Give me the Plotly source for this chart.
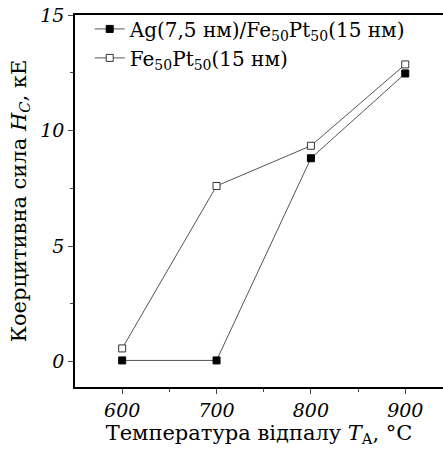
import plotly.graph_objects as go

temps = [600, 700, 800, 900]
hc_ag_fept = [0.05, 0.05, 8.8, 12.47]
hc_fept = [0.57, 7.6, 9.34, 12.86]
name_ag = "Ag(7,5 нм)/Fe<sub>50</sub>Pt<sub>50</sub>(15 нм)"
name_fept = "Fe<sub>50</sub>Pt<sub>50</sub>(15 нм)"
x_ticks = [600, 700, 800, 900]
x_ticklabels = ["600", "700", "800", "900"]
y_ticks = [0, 5, 10, 15]
y_ticklabels = ["0", "5", "10", "15"]

font = "DejaVu Serif"

fig = go.Figure()
fig.add_trace(go.Scatter(
    x=temps, y=hc_ag_fept, name=name_ag, mode="lines+markers",
    line=dict(color="#555555", width=1),
    marker=dict(symbol="square", size=7, color="black", line=dict(color="black", width=1)),
))
fig.add_trace(go.Scatter(
    x=temps, y=hc_fept, name=name_fept, mode="lines+markers",
    line=dict(color="#555555", width=1),
    marker=dict(symbol="square", size=7, color="white", line=dict(color="#333333", width=1)),
))

fig.update_layout(
    width=443, height=450,
    margin=dict(l=75, r=0, t=15, b=63),
    plot_bgcolor="white", paper_bgcolor="white",
    font=dict(family=font, color="black"),
    showlegend=True,
    legend=dict(
        x=0.04, y=1.015, xanchor="left", yanchor="top",
        bgcolor="rgba(0,0,0,0)", font=dict(family=font, size=20),
        tracegroupgap=0, itemwidth=30,
    ),
    xaxis=dict(
        range=[550, 940], tickvals=x_ticks,
        ticktext=["<i>%s</i>" % t for t in x_ticklabels],
        ticks="outside", ticklen=5,
        showline=True, linecolor="black", linewidth=1.5, mirror=True,
        showgrid=False, zeroline=False,
        tickfont=dict(family=font, size=19),
        minor=dict(tickvals=[650, 750, 850], ticks="outside", ticklen=3),
        title=dict(text="Температура відпалу <i>T</i><sub>A</sub>, °C",
                   font=dict(family=font, size=21), standoff=4),
    ),
    yaxis=dict(
        range=[-1.1, 15], tickvals=y_ticks,
        ticktext=["<i>%s</i>" % t for t in y_ticklabels],
        ticks="outside", ticklen=5,
        showline=True, linecolor="black", linewidth=1.5,
        showgrid=False, zeroline=False,
        tickfont=dict(family=font, size=19),
        minor=dict(tickvals=[2.5, 7.5, 12.5], ticks="outside", ticklen=3),
        title=dict(text="Коерцитивна сила <i>H</i><sub><i>C</i></sub>, кЕ",
                   font=dict(family=font, size=21), standoff=8),
    ),
)

fig.write_html("out.html", config={"displayModeBar": False},
               post_script="document.body.style.margin='0';")
